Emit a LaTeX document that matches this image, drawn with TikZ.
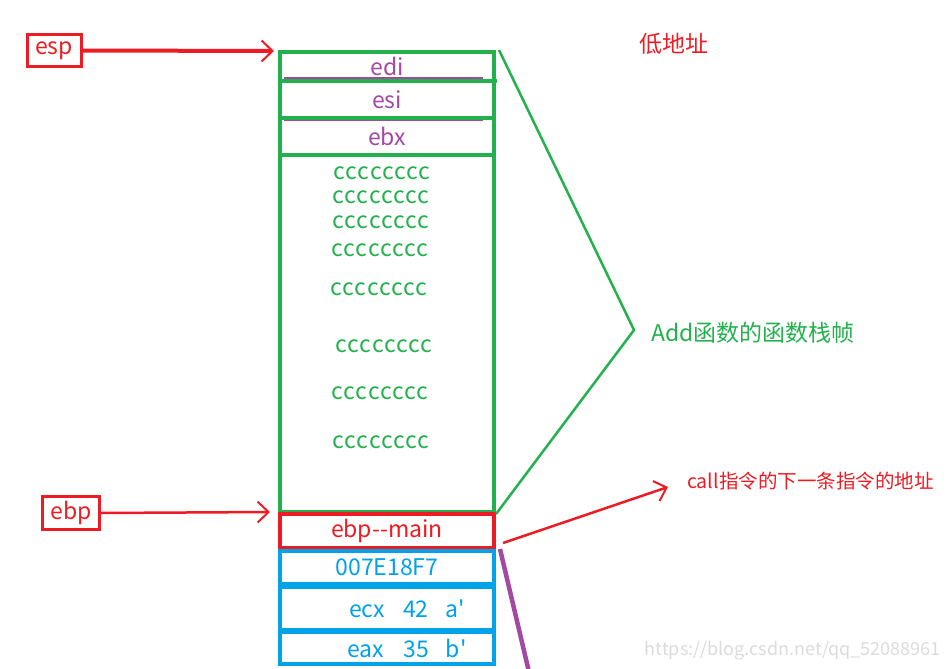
\documentclass[tikz,border=0pt]{standalone}
\usepackage{fontspec}
\setmainfont{Noto Sans CJK SC}
\newfontfamily\plainquote{Noto Sans CJK SC}
\newcommand{\sq}{{\plainquote\symbol{39}}}
\usetikzlibrary{arrows.meta}
\definecolor{pred}{HTML}{ED1C24}
\definecolor{pgreen}{HTML}{22B14C}
\definecolor{ppurple}{HTML}{A349A4}
\definecolor{pblue}{HTML}{00A2E8}
\definecolor{wmgrey}{HTML}{DCDCDC}
\tikzset{
  big/.style={font=\fontsize{23}{27}\selectfont},
  small/.style={font=\fontsize{19.5}{23}\selectfont},
  cell/.style={draw, line width=4pt, minimum width=214pt, inner sep=0pt, big},
  gcell/.style={cell, draw=pgreen, text=ppurple},
  rcell/.style={cell, draw=pred, text=pred},
  bcell/.style={cell, draw=pblue, text=pblue},
  regbox/.style={draw=pred, line width=3pt, text=pred, inner sep=0pt, big},
  ctext/.style={text=pgreen, font=\fontsize{23}{27}\selectfont\addfontfeature{LetterSpace=4}, inner sep=0pt},
  tip/.style={-{Straight Barb[length=11pt, width=21pt, line width=2pt]}},
}
\begin{document}
\begin{tikzpicture}[x=1pt, y=-1pt]
\path[use as bounding box, fill=white] (0,0) rectangle (948,669);

% registers
\node[regbox, minimum width=54pt, minimum height=32pt] (esp) at (54,50.5) {esp};
\node[regbox, minimum width=57pt, minimum height=33pt] (ebp) at (71,513) {ebp};

% stack cells
\node[gcell, minimum height=29pt] (edi) at (387,66.5) {edi};
\node[gcell, minimum height=37pt] (esi) at (387,99.5) {esi};
\node[gcell, minimum height=37pt] (ebx) at (387,136.5) {\raisebox{-2pt}{ebx}};
\draw[ppurple, line width=3pt] (284,79) -- (483,79);
\draw[ppurple, line width=2.5pt] (284,119.5) -- (483,119.5);
\draw[pgreen, line width=4pt] (284,81) -- (497,81);
\draw[pgreen, line width=4pt] (284,118) -- (494,118);
\node[gcell, minimum height=357pt] (body) at (387,333.5) {};
\node[rcell, minimum height=34pt] (main) at (387,531) {ebp{-}{-}main};
\node[bcell, minimum height=33pt] (ret) at (387,567.5) {007E18F7};
\node[bcell, minimum height=43pt] (ecx) at (387,608.5) {\hspace*{40pt}ecx\hspace{18pt}42\hspace{17pt}a\sq};
\node[bcell, minimum height=32pt] (eax) at (387,648) {\hspace*{40pt}eax\hspace{19pt}35\hspace{17pt}b\sq};

% cccccccc rows
\node[ctext] (c1) at (382,173) {cccccccc};
\node[ctext] (c2) at (381,197) {cccccccc};
\node[ctext] (c3) at (381,222) {cccccccc};
\node[ctext] (c4) at (380,250) {cccccccc};
\node[ctext] (c5) at (379,289) {cccccccc};
\node[ctext] (c6) at (384,346) {cccccccc};
\node[ctext] (c7) at (380,393) {cccccccc};
\node[ctext] (c8) at (381,442) {cccccccc};

% pointers
\coordinate (espT) at (274,51);
\coordinate (ebpT) at (270,512);
\draw[pred, line width=4pt, tip] (esp.east) -- (espT);
\draw[pred, line width=2.5pt, tip] (ebp.east) -- (ebpT);

% labels
\node[big, text=pred, anchor=west, inner sep=0pt] (low) at (639,44) {低地址};
\coordinate (braceTip) at (634,330);
\draw[pgreen, line width=2.5pt] (edi.north east) ++(3,0) coordinate (bA) -- (braceTip) -- (body.south east);
\node[big, text=pgreen, anchor=west, inner sep=0pt] (addlbl) at (651,333) {Add函数的函数栈帧};

\coordinate (callT) at (668,487);
\draw[pred, line width=2.5pt, tip] (ret.north east) ++(7,-6) coordinate (cA) -- (callT);
\node[small, text=pred, anchor=west, inner sep=0pt] (calllbl) at (687,481) {call指令的下一条指令的地址};

\coordinate (purpEnd) at (529,672);
\draw[ppurple, line width=4.5pt] (ret.north east) ++(4,0) coordinate (pA) -- (purpEnd);

\node[text=wmgrey, font=\fontsize{18}{20}\selectfont, anchor=east, inner sep=0pt] (wm) at (941,651) {https://blog.csdn.net/qq\_52088961};
\end{tikzpicture}
\end{document}
